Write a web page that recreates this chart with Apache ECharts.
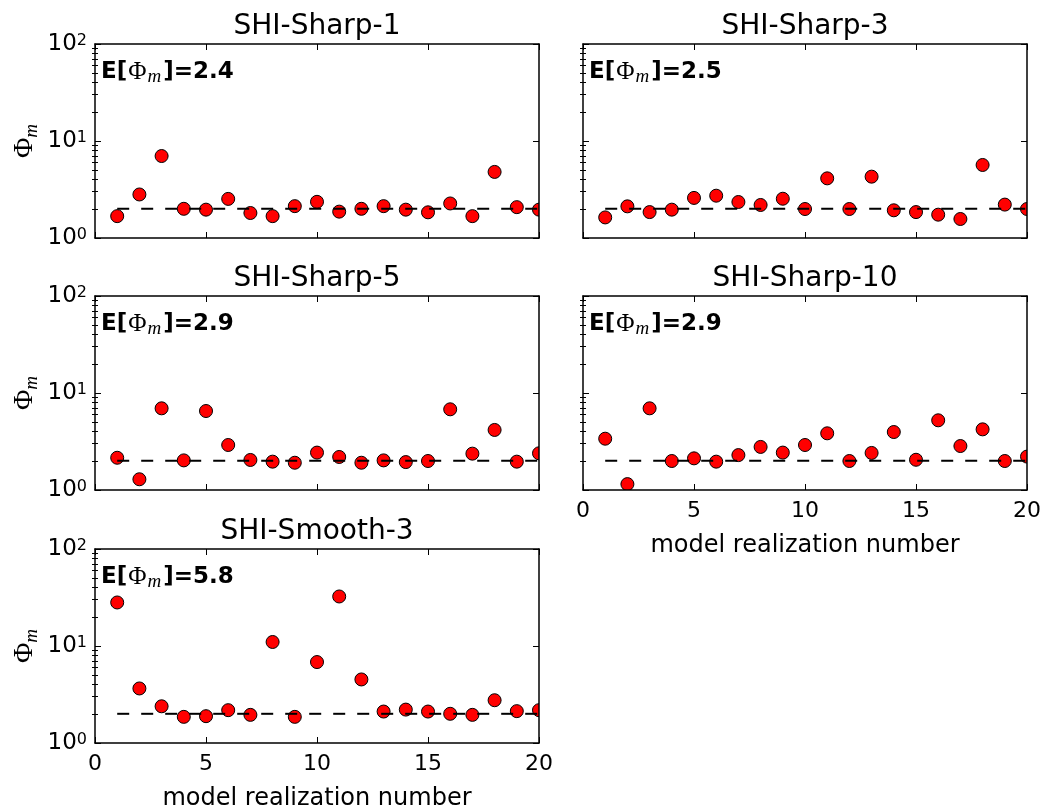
<!DOCTYPE html>
<html>
<head>
<meta charset="utf-8">
<script src="https://cdn.jsdelivr.net/npm/echarts@6/dist/echarts.min.js"></script>
<style>
  html, body { margin: 0; padding: 0; background: #ffffff; }
  #chart { width: 1046px; height: 812px; }
</style>
</head>
<body>
<div id="chart"></div>
<script>
// Realization index on the x axis
const realizations = [1, 2, 3, 4, 5, 6, 7, 8, 9, 10, 11, 12, 13, 14, 15, 16, 17, 18, 19, 20];

// Panel names and the mean misfit printed in each panel
const panelNames = ['SHI-Sharp-1', 'SHI-Sharp-3', 'SHI-Sharp-5', 'SHI-Sharp-10', 'SHI-Smooth-3'];
const expectedPhi = [2.4, 2.5, 2.9, 2.9, 5.8];

// Data misfit Phi_m per realization
const sharp1  = [1.68, 2.81, 7.0, 2.0, 1.96, 2.53, 1.81, 1.68, 2.13, 2.36, 1.87, 2.0, 2.13, 1.96, 1.84, 2.27, 1.68, 4.8, 2.08, 1.96];
const sharp3  = [1.63, 2.12, 1.85, 1.96, 2.59, 2.73, 2.35, 2.19, 2.54, 1.99, 4.12, 1.99, 4.29, 1.93, 1.85, 1.74, 1.57, 5.66, 2.21, 1.99];
const sharp5  = [2.15, 1.29, 6.95, 2.02, 6.52, 2.91, 2.04, 1.96, 1.91, 2.43, 2.19, 1.91, 2.02, 1.94, 1.99, 6.79, 2.37, 4.16, 1.96, 2.39];
const sharp10 = [3.38, 1.15, 6.95, 1.99, 2.12, 1.96, 2.29, 2.78, 2.43, 2.91, 3.84, 1.99, 2.41, 3.96, 2.05, 5.23, 2.84, 4.22, 1.99, 2.21];
const smooth3 = [28.1, 3.65, 2.39, 1.86, 1.89, 2.18, 1.95, 11.0, 1.86, 6.83, 32.4, 4.52, 2.11, 2.21, 2.11, 2.0, 1.95, 2.76, 2.13, 2.18];

// Target misfit level (dashed reference line)
const targetLevel = 2;

// Axis ranges and ticks
const xRange = [0, 20];
const xStep = 5;
const yRange = [1, 100];
const yMinorTicks = [2, 3, 4, 5, 6, 7, 8, 9, 20, 30, 40, 50, 60, 70, 80, 90];

const panelSeries = [sharp1, sharp3, sharp5, sharp10, smooth3];

// Layout of the 3x2 subplot grid (last cell empty)
const W = 444, H = 194;
const cells = [
  { left: 95,  top: 44,  yLabels: true,  xLabels: false },
  { left: 583, top: 44,  yLabels: false, xLabels: false },
  { left: 95,  top: 296, yLabels: true,  xLabels: false },
  { left: 583, top: 296, yLabels: false, xLabels: true  },
  { left: 95,  top: 549, yLabels: true,  xLabels: true  }
];

const FONT = 'DejaVu Sans';
const BLACK = '#000000';

const grids = [], xAxes = [], yAxes = [], series = [], graphics = [];

cells.forEach((c, p) => {
  grids.push({ left: c.left, top: c.top, width: W, height: H, containLabel: false });

  const xBase = {
    gridIndex: p, type: 'value', min: xRange[0], max: xRange[1], interval: xStep, z: 5,
    axisLine: { show: true, onZero: false, lineStyle: { color: BLACK, width: 1.5 } },
    axisTick: { show: true, inside: true, length: 6, lineStyle: { color: BLACK, width: 1 } },
    splitLine: { show: false }
  };
  xAxes.push(Object.assign({}, xBase, {
    position: 'bottom',
    axisLabel: { show: c.xLabels, margin: 10, fontSize: 22, color: BLACK, fontFamily: FONT },
    name: c.xLabels ? 'model realization number' : '',
    nameLocation: 'middle', nameGap: 44,
    nameTextStyle: { fontSize: 24, color: BLACK, fontFamily: FONT }
  }));
  xAxes.push(Object.assign({}, xBase, { position: 'top', axisLabel: { show: false } }));

  const yBase = {
    gridIndex: p, type: 'log', logBase: 10, min: yRange[0], max: yRange[1], z: 5,
    splitLine: { show: false }
  };
  const majorY = (pos, labels) => Object.assign({}, yBase, {
    position: pos,
    axisLine: { show: true, onZero: false, lineStyle: { color: BLACK, width: 1.5 } },
    axisTick: { show: true, inside: true, length: 6, lineStyle: { color: BLACK, width: 1 } },
    axisLabel: {
      show: labels, margin: 8, color: BLACK, fontFamily: FONT,
      formatter: v => '{b|10}{s|' + Math.round(Math.log10(v)) + '}',
      rich: {
        b: { fontSize: 23, lineHeight: 23, padding: [6, 0, 6, 0], color: BLACK, fontFamily: FONT },
        s: { fontSize: 16, lineHeight: 16, verticalAlign: 'top', color: BLACK, fontFamily: FONT }
      }
    },
    name: labels ? '{phi|Φ}{m|m}' : '',
    nameLocation: 'middle', nameGap: 54, nameRotate: 90,
    nameTextStyle: {
      color: BLACK,
      rich: {
        phi: { fontSize: 28, lineHeight: 28, padding: [0, 0, 5, 0], fontFamily: 'Liberation Serif', color: BLACK },
        m: { fontSize: 19, lineHeight: 19, verticalAlign: 'bottom', fontStyle: 'italic', fontFamily: 'Liberation Serif', color: BLACK }
      }
    }
  });
  const minorY = pos => Object.assign({}, yBase, {
    position: pos,
    axisLine: { show: false },
    axisTick: { show: true, inside: true, length: 3, customValues: yMinorTicks, lineStyle: { color: BLACK, width: 1 } },
    axisLabel: { show: false }
  });
  yAxes.push(majorY('left', c.yLabels));
  yAxes.push(minorY('left'));
  yAxes.push(majorY('right', false));
  yAxes.push(minorY('right'));

  const values = panelSeries[p];

  // Misfit markers, cut at the plot box edges
  series.push({
    type: 'custom', name: panelNames[p],
    xAxisIndex: 2 * p, yAxisIndex: 4 * p,
    clip: true, z: 2, silent: true,
    encode: { x: 0, y: 1 },
    data: realizations.map((r, i) => [r, values[i]]),
    renderItem: (params, api) => {
      const pt = api.coord([api.value(0), api.value(1)]);
      const box = params.coordSys;
      return {
        type: 'circle',
        shape: { cx: pt[0], cy: pt[1], r: 6.5 },
        style: { fill: '#ff0000', stroke: BLACK, lineWidth: 1 },
        clipPath: { type: 'rect', shape: { x: box.x, y: box.y, width: box.width, height: box.height } }
      };
    }
  });

  // Target misfit reference
  series.push({
    type: 'line', xAxisIndex: 2 * p, yAxisIndex: 4 * p, z: 3, silent: true,
    symbol: 'none', animation: false,
    lineStyle: { color: BLACK, width: 2, type: [12, 12] },
    data: [[realizations[0], targetLevel], [realizations[realizations.length - 1], targetLevel]]
  });

  // Panel title
  graphics.push({
    type: 'text', x: c.left + W / 2, y: c.top - 17, z: 10,
    style: { text: panelNames[p], fontSize: 28, fontFamily: FONT, fill: BLACK, align: 'center', verticalAlign: 'middle' }
  });

  // Mean misfit annotation
  graphics.push({
    type: 'text', x: c.left + 6, y: c.top + 31, z: 10,
    style: {
      text: '{b|E[}{phi|Φ}{m|m}{b|]=' + expectedPhi[p].toFixed(1) + '}',
      align: 'left', verticalAlign: 'middle', fill: BLACK,
      rich: {
        b: { fontSize: 23, lineHeight: 23, padding: [0, 0, 5, 0], fontWeight: 'bold', fontFamily: FONT, fill: BLACK },
        phi: { fontSize: 25, lineHeight: 23, padding: [0, 1, 5, 1], fontFamily: 'Liberation Serif', fill: BLACK },
        m: { fontSize: 19, lineHeight: 19, verticalAlign: 'bottom', padding: [0, 2, 0, 0], fontStyle: 'italic', fontFamily: 'Liberation Serif', fill: BLACK }
      }
    }
  });
});

const chart = echarts.init(document.getElementById('chart'), null, { renderer: 'canvas' });
chart.setOption({
  animation: false,
  backgroundColor: '#ffffff',
  textStyle: { fontFamily: FONT, color: BLACK },
  grid: grids,
  xAxis: xAxes,
  yAxis: yAxes,
  series: series,
  graphic: graphics
});
</script>
</body>
</html>
